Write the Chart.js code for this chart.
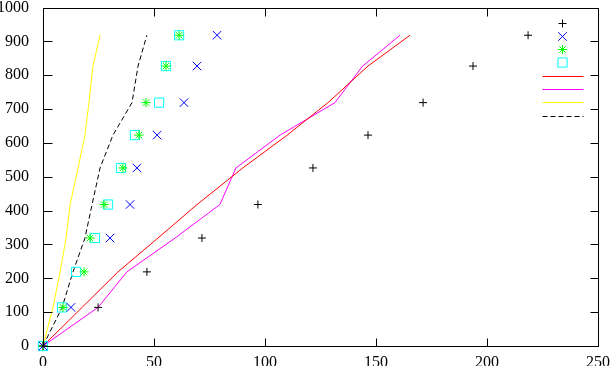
<!DOCTYPE html>
<html>
<head>
<meta charset="utf-8">
<script src="https://cdn.jsdelivr.net/npm/chart.js@4/dist/chart.umd.min.js"></script>
<style>
  body { margin: 0; background: #fff; }
  canvas { display: block; }
</style>
</head>
<body>
<canvas id="myChart" width="613" height="366"></canvas>
<script>
// values
const yVals = [0, 114, 219, 319, 418, 526, 623, 719, 827, 918]
const plusX = [0, 24.8, 46.8, 71.6, 96.8, 121.6, 146.4, 171.2, 193.7, 218.5]
const crossX = [0, 12.6, null, 30.2, 39.2, 42.3, 51.4, 63.5, 69.4, 78.4]
const starX = [0, 9.0, 18.5, 21.2, 27.5, 36.0, 43.2, 46.4, 55.4, 61.3]
const boxX = [0, 8.6, 14.9, 23.4, 29.3, 35.1, 41.4, 52.3, 55.4, 61.3]
const redX = [0, 17.6, 33.8, 51.8, 69.4, 90.0, 110.0, 128.4, 146.4, 165.3]
const magentaX = [0, 24.8, 37.8, 59.5, 79.7, 86.9, 106.8, 131.5, 144.0, 160.8]
const yellowX = [0, 4.5, 7.7, 10.4, 12.2, 15.8, 18.9, 20.7, 22.5, 25.7]
const dashedX = [0, 8.6, 13.5, 18.9, 22.1, 25.7, 31.5, 40.1, 42.8, 46.8]

const xTicks = [0, 50, 100, 150, 200, 250]
const yTicks = [0, 100, 200, 300, 400, 500, 600, 700, 800, 900, 1000]

function pairs(xs) {
    const out = []
    xs.forEach((v, i) => { if (v !== null) out.push({ x: v, y: yVals[i] }) })
    return out
}

function pointSet(xs, style, color, r) {
    return {
        data: pairs(xs), showLine: false, pointStyle: style, pointRadius: r,
        pointBorderColor: color, pointBackgroundColor: 'rgba(0,0,0,0)', pointBorderWidth: 1,
        borderColor: color, clip: false
    }
}

function lineSet(xs, color, dash) {
    return {
        data: pairs(xs), showLine: true, pointRadius: 0, borderColor: color,
        borderWidth: 1, borderDash: dash || [], tension: 0, clip: false
    }
}

const datasets = [
    pointSet(plusX, 'cross', '#000000', 4),
    pointSet(crossX, 'crossRot', '#0000ff', 6),
    pointSet(starX, 'star', '#00ff00', 4.6),
    pointSet(boxX, 'rect', '#00ffff', 6.5),
    lineSet(redX, '#ff0000'),
    lineSet(magentaX, '#ff00ff'),
    lineSet(yellowX, '#ffff00'),
    lineSet(dashedX, '#000000', [5, 3])
]

// frame, inward ticks on all sides, and the key with no text
const frame = {
    id: 'frame',
    afterDraw(chart) {
        const ctx = chart.ctx
        const a = chart.chartArea
        const sx = chart.scales.x
        const sy = chart.scales.y
        ctx.save()
        ctx.strokeStyle = '#000'
        ctx.lineWidth = 1
        ctx.setLineDash([])
        ctx.beginPath()
        const L = Math.round(a.left) + 0.5, R = Math.round(a.right) + 0.5
        const T = Math.round(a.top) + 0.5, B = Math.round(a.bottom) + 0.5
        ctx.rect(L, T, R - L, B - T)
        for (const v of xTicks) {
            const px = Math.round(sx.getPixelForValue(v)) + 0.5
            ctx.moveTo(px, B); ctx.lineTo(px, B - 8)
            ctx.moveTo(px, T); ctx.lineTo(px, T + 8)
        }
        for (const v of yTicks) {
            const py = Math.round(sy.getPixelForValue(v)) + 0.5
            ctx.moveTo(L, py); ctx.lineTo(L + 9, py)
            ctx.moveTo(R, py); ctx.lineTo(R - 8, py)
        }
        ctx.stroke()

        chart.data.datasets.forEach((ds, i) => {
            const ky = Math.round(a.top + 15 + i * 13.3) + 0.5
            if (ds.showLine) {
                ctx.strokeStyle = ds.borderColor
                ctx.setLineDash(ds.borderDash)
                ctx.beginPath()
                ctx.moveTo(R - 56, ky)
                ctx.lineTo(R - 15, ky)
                ctx.stroke()
                ctx.setLineDash([])
            } else {
                ctx.strokeStyle = ds.pointBorderColor
                ctx.fillStyle = 'rgba(0,0,0,0)'
                Chart.helpers.drawPoint(ctx, {
                    pointStyle: ds.pointStyle, radius: ds.pointRadius, rotation: 0, borderWidth: 1
                }, R - 36, ky)
            }
        })
        ctx.restore()
    }
}

const tickFont = { family: "'Liberation Serif', 'Times New Roman', serif", size: 16 }

new Chart(document.getElementById('myChart'), {
    type: 'scatter',
    data: { datasets: datasets },
    options: {
        responsive: false,
        animation: false,
        devicePixelRatio: 1,
        layout: { padding: { top: 4, right: 15, left: 0, bottom: 0 } },
        plugins: { legend: { display: false }, tooltip: { enabled: false } },
        scales: {
            x: {
                type: 'linear', min: 0, max: 250,
                grid: { display: false }, border: { display: false },
                ticks: { stepSize: 50, color: '#000', font: tickFont, padding: -1, maxRotation: 0,
                    callback: v => String(v) },
                afterFit(s) { s.height = 20; s.paddingLeft = 0; s.paddingRight = 0 }
            },
            y: {
                type: 'linear', min: 0, max: 1000,
                grid: { display: false }, border: { display: false },
                ticks: { stepSize: 100, color: '#000', font: tickFont, padding: 6,
                    callback: v => String(v) },
                afterFit(s) { s.width = 43; s.paddingTop = 0; s.paddingBottom = 0 }
            }
        }
    },
    plugins: [frame]
})
</script>
</body>
</html>
